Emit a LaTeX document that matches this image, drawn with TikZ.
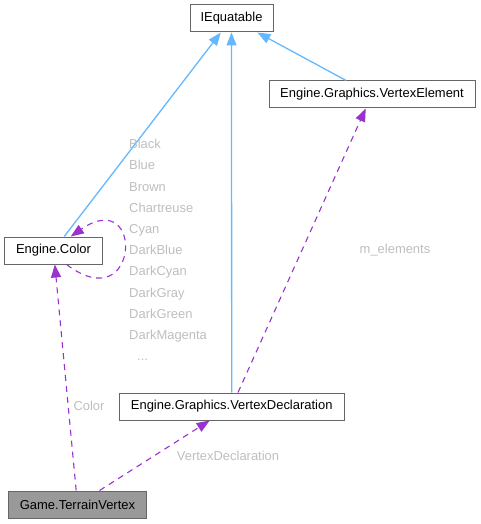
\documentclass[tikz,border=0pt]{standalone}
\usepackage{fontspec}
\setmainfont{Liberation Sans}
\usetikzlibrary{arrows.meta}
\definecolor{inheritblue}{HTML}{63B8FF}
\definecolor{usagepurple}{HTML}{9A32CD}
\definecolor{boxgray}{HTML}{666666}
\definecolor{labelgray}{HTML}{BEBEBE}
\definecolor{mainfill}{HTML}{999999}

\begin{document}
\begin{tikzpicture}[x=1bp,y=-1bp,
    classbox/.style={draw=boxgray,line width=1bp,fill=white,minimum height=27bp,inner sep=0pt,font=\fontsize{13}{15}\selectfont},
    inherit/.style={draw=inheritblue,line width=1.3bp,-{Triangle[length=13bp,width=10bp]},color=inheritblue},
    usage/.style={draw=usagepurple,line width=1.1bp,dash pattern=on 6bp off 5bp,-{Triangle[length=13bp,width=10bp]},color=usagepurple},
    edgelabel/.style={text=labelgray,inner sep=0pt,font=\fontsize{13}{15}\selectfont}]
    \useasboundingbox (0,0) rectangle (481,524);

    % Classes
    \node[classbox,minimum width=83bp] (ieq) at (231.5,18.5) {IEquatable};
    \node[classbox,minimum width=206bp] (velem) at (372,94.5) {Engine.Graphics.VertexElement};
    \node[classbox,minimum width=97bp] (colr) at (53.5,250.5) {Engine.Color};
    \node[classbox,minimum width=225bp] (vdecl) at (231.7,406.5) {Engine.Graphics.VertexDeclaration};
    \node[classbox,minimum width=137bp,fill=mainfill] (terrain) at (77.5,504.5) {Game.TerrainVertex};

    % Inheritance
    \draw[inherit] (colr) -- (ieq);
    \draw[inherit] (vdecl) -- (ieq);
    \draw[inherit] (velem) -- (ieq);

    % Members
    \draw[usage] (colr.-47) .. controls (140,320) and (145,185) .. (colr.39);
    \draw[usage] (vdecl) -- (velem);
    \draw[usage] (terrain) -- (colr);
    \draw[usage] (terrain) -- (vdecl);

    % Labels
    \node[edgelabel,anchor=north west,align=left,font=\fontsize{13}{21.3}\selectfont] (colrnames) at (129,139)
        {Black\\Blue\\Brown\\Chartreuse\\Cyan\\DarkBlue\\DarkCyan\\DarkGray\\DarkGreen\\DarkMagenta\\\hspace{8bp}...};
    \node[edgelabel] (elemlbl) at (395,250) {m\_elements};
    \node[edgelabel] (colrlbl) at (89,406) {Color};
    \node[edgelabel] (vdecllbl) at (228,456) {VertexDeclaration};
\end{tikzpicture}
\end{document}
